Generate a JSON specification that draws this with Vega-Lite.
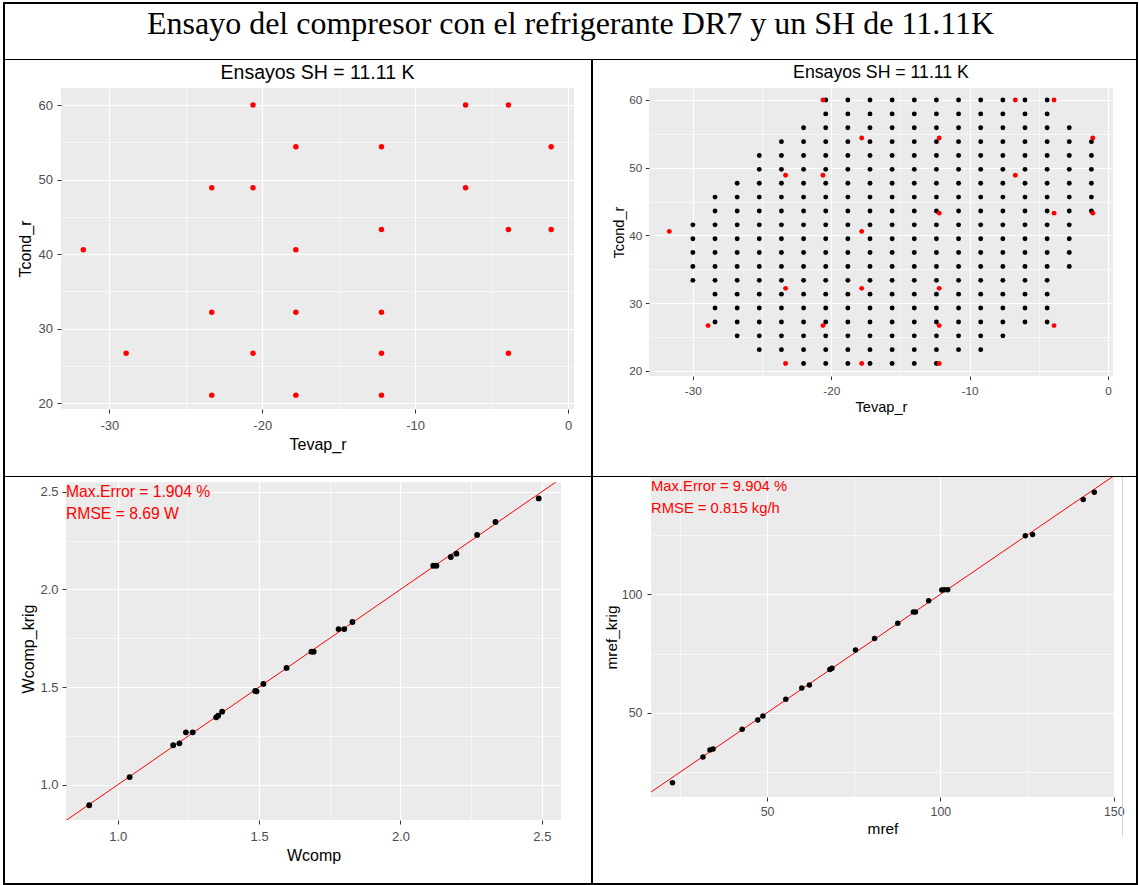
{
"$schema": "https://vega.github.io/schema/vega-lite/v6.json",
"background": "white",
"padding": {"left": 3, "top": 2, "right": 0, "bottom": 0},
"spacing": 0,
"config": {
 "view": {"stroke": null},
 "font": "Liberation Sans",
 "axis": {"domain": false, "grid": true, "gridColor": "#FFFFFF", "tickColor": "#333333", "tickWidth": 1, "tickSize": 4, "labelColor": "#4D4D4D", "labelFont": "Liberation Sans", "titleFont": "Liberation Sans", "titleFontWeight": "normal", "titleColor": "#000000", "labelOverlap": false, "labelFlush": false, "labelBound": false},
 "text": {"font": "Liberation Sans"}
},
"datasets": {
 "tests": [
  {"Tevap_r":-20.6,"Tcond_r":60},{"Tevap_r":-6.7,"Tcond_r":60},{"Tevap_r":-3.9,"Tcond_r":60},
  {"Tevap_r":-17.8,"Tcond_r":54.4},{"Tevap_r":-12.2,"Tcond_r":54.4},{"Tevap_r":-1.1,"Tcond_r":54.4},
  {"Tevap_r":-23.3,"Tcond_r":48.9},{"Tevap_r":-20.6,"Tcond_r":48.9},{"Tevap_r":-6.7,"Tcond_r":48.9},
  {"Tevap_r":-12.2,"Tcond_r":43.3},{"Tevap_r":-3.9,"Tcond_r":43.3},{"Tevap_r":-1.1,"Tcond_r":43.3},
  {"Tevap_r":-31.7,"Tcond_r":40.6},{"Tevap_r":-17.8,"Tcond_r":40.6},
  {"Tevap_r":-23.3,"Tcond_r":32.2},{"Tevap_r":-17.8,"Tcond_r":32.2},{"Tevap_r":-12.2,"Tcond_r":32.2},
  {"Tevap_r":-28.9,"Tcond_r":26.7},{"Tevap_r":-20.6,"Tcond_r":26.7},{"Tevap_r":-12.2,"Tcond_r":26.7},{"Tevap_r":-3.9,"Tcond_r":26.7},
  {"Tevap_r":-23.3,"Tcond_r":21.1},{"Tevap_r":-17.8,"Tcond_r":21.1},{"Tevap_r":-12.2,"Tcond_r":21.1}
 ],
 "grid": [
  {"Tevap_r":-20.4,"Tcond_r":60},{"Tevap_r":-18.8,"Tcond_r":60},{"Tevap_r":-17.2,"Tcond_r":60},{"Tevap_r":-15.6,"Tcond_r":60},{"Tevap_r":-14,"Tcond_r":60},{"Tevap_r":-12.4,"Tcond_r":60},{"Tevap_r":-10.8,"Tcond_r":60},{"Tevap_r":-9.2,"Tcond_r":60},{"Tevap_r":-7.6,"Tcond_r":60},{"Tevap_r":-6,"Tcond_r":60},{"Tevap_r":-4.4,"Tcond_r":60},
  {"Tevap_r":-20.4,"Tcond_r":57.95},{"Tevap_r":-18.8,"Tcond_r":57.95},{"Tevap_r":-17.2,"Tcond_r":57.95},{"Tevap_r":-15.6,"Tcond_r":57.95},{"Tevap_r":-14,"Tcond_r":57.95},{"Tevap_r":-12.4,"Tcond_r":57.95},{"Tevap_r":-10.8,"Tcond_r":57.95},{"Tevap_r":-9.2,"Tcond_r":57.95},{"Tevap_r":-7.6,"Tcond_r":57.95},{"Tevap_r":-6,"Tcond_r":57.95},{"Tevap_r":-4.4,"Tcond_r":57.95},
  {"Tevap_r":-22,"Tcond_r":55.9},{"Tevap_r":-20.4,"Tcond_r":55.9},{"Tevap_r":-18.8,"Tcond_r":55.9},{"Tevap_r":-17.2,"Tcond_r":55.9},{"Tevap_r":-15.6,"Tcond_r":55.9},{"Tevap_r":-14,"Tcond_r":55.9},{"Tevap_r":-12.4,"Tcond_r":55.9},{"Tevap_r":-10.8,"Tcond_r":55.9},{"Tevap_r":-9.2,"Tcond_r":55.9},{"Tevap_r":-7.6,"Tcond_r":55.9},{"Tevap_r":-6,"Tcond_r":55.9},{"Tevap_r":-4.4,"Tcond_r":55.9},{"Tevap_r":-2.8,"Tcond_r":55.9},
  {"Tevap_r":-23.6,"Tcond_r":53.85},{"Tevap_r":-22,"Tcond_r":53.85},{"Tevap_r":-20.4,"Tcond_r":53.85},{"Tevap_r":-18.8,"Tcond_r":53.85},{"Tevap_r":-17.2,"Tcond_r":53.85},{"Tevap_r":-15.6,"Tcond_r":53.85},{"Tevap_r":-14,"Tcond_r":53.85},{"Tevap_r":-12.4,"Tcond_r":53.85},{"Tevap_r":-10.8,"Tcond_r":53.85},{"Tevap_r":-9.2,"Tcond_r":53.85},{"Tevap_r":-7.6,"Tcond_r":53.85},{"Tevap_r":-6,"Tcond_r":53.85},{"Tevap_r":-4.4,"Tcond_r":53.85},{"Tevap_r":-2.8,"Tcond_r":53.85},{"Tevap_r":-1.2,"Tcond_r":53.85},
  {"Tevap_r":-25.2,"Tcond_r":51.81},{"Tevap_r":-23.6,"Tcond_r":51.81},{"Tevap_r":-22,"Tcond_r":51.81},{"Tevap_r":-20.4,"Tcond_r":51.81},{"Tevap_r":-18.8,"Tcond_r":51.81},{"Tevap_r":-17.2,"Tcond_r":51.81},{"Tevap_r":-15.6,"Tcond_r":51.81},{"Tevap_r":-14,"Tcond_r":51.81},{"Tevap_r":-12.4,"Tcond_r":51.81},{"Tevap_r":-10.8,"Tcond_r":51.81},{"Tevap_r":-9.2,"Tcond_r":51.81},{"Tevap_r":-7.6,"Tcond_r":51.81},{"Tevap_r":-6,"Tcond_r":51.81},{"Tevap_r":-4.4,"Tcond_r":51.81},{"Tevap_r":-2.8,"Tcond_r":51.81},{"Tevap_r":-1.2,"Tcond_r":51.81},
  {"Tevap_r":-25.2,"Tcond_r":49.76},{"Tevap_r":-23.6,"Tcond_r":49.76},{"Tevap_r":-22,"Tcond_r":49.76},{"Tevap_r":-20.4,"Tcond_r":49.76},{"Tevap_r":-18.8,"Tcond_r":49.76},{"Tevap_r":-17.2,"Tcond_r":49.76},{"Tevap_r":-15.6,"Tcond_r":49.76},{"Tevap_r":-14,"Tcond_r":49.76},{"Tevap_r":-12.4,"Tcond_r":49.76},{"Tevap_r":-10.8,"Tcond_r":49.76},{"Tevap_r":-9.2,"Tcond_r":49.76},{"Tevap_r":-7.6,"Tcond_r":49.76},{"Tevap_r":-6,"Tcond_r":49.76},{"Tevap_r":-4.4,"Tcond_r":49.76},{"Tevap_r":-2.8,"Tcond_r":49.76},{"Tevap_r":-1.2,"Tcond_r":49.76},
  {"Tevap_r":-26.8,"Tcond_r":47.71},{"Tevap_r":-25.2,"Tcond_r":47.71},{"Tevap_r":-23.6,"Tcond_r":47.71},{"Tevap_r":-22,"Tcond_r":47.71},{"Tevap_r":-20.4,"Tcond_r":47.71},{"Tevap_r":-18.8,"Tcond_r":47.71},{"Tevap_r":-17.2,"Tcond_r":47.71},{"Tevap_r":-15.6,"Tcond_r":47.71},{"Tevap_r":-14,"Tcond_r":47.71},{"Tevap_r":-12.4,"Tcond_r":47.71},{"Tevap_r":-10.8,"Tcond_r":47.71},{"Tevap_r":-9.2,"Tcond_r":47.71},{"Tevap_r":-7.6,"Tcond_r":47.71},{"Tevap_r":-6,"Tcond_r":47.71},{"Tevap_r":-4.4,"Tcond_r":47.71},{"Tevap_r":-2.8,"Tcond_r":47.71},{"Tevap_r":-1.2,"Tcond_r":47.71},
  {"Tevap_r":-28.4,"Tcond_r":45.67},{"Tevap_r":-26.8,"Tcond_r":45.67},{"Tevap_r":-25.2,"Tcond_r":45.67},{"Tevap_r":-23.6,"Tcond_r":45.67},{"Tevap_r":-22,"Tcond_r":45.67},{"Tevap_r":-20.4,"Tcond_r":45.67},{"Tevap_r":-18.8,"Tcond_r":45.67},{"Tevap_r":-17.2,"Tcond_r":45.67},{"Tevap_r":-15.6,"Tcond_r":45.67},{"Tevap_r":-14,"Tcond_r":45.67},{"Tevap_r":-12.4,"Tcond_r":45.67},{"Tevap_r":-10.8,"Tcond_r":45.67},{"Tevap_r":-9.2,"Tcond_r":45.67},{"Tevap_r":-7.6,"Tcond_r":45.67},{"Tevap_r":-6,"Tcond_r":45.67},{"Tevap_r":-4.4,"Tcond_r":45.67},{"Tevap_r":-2.8,"Tcond_r":45.67},{"Tevap_r":-1.2,"Tcond_r":45.67},
  {"Tevap_r":-28.4,"Tcond_r":43.62},{"Tevap_r":-26.8,"Tcond_r":43.62},{"Tevap_r":-25.2,"Tcond_r":43.62},{"Tevap_r":-23.6,"Tcond_r":43.62},{"Tevap_r":-22,"Tcond_r":43.62},{"Tevap_r":-20.4,"Tcond_r":43.62},{"Tevap_r":-18.8,"Tcond_r":43.62},{"Tevap_r":-17.2,"Tcond_r":43.62},{"Tevap_r":-15.6,"Tcond_r":43.62},{"Tevap_r":-14,"Tcond_r":43.62},{"Tevap_r":-12.4,"Tcond_r":43.62},{"Tevap_r":-10.8,"Tcond_r":43.62},{"Tevap_r":-9.2,"Tcond_r":43.62},{"Tevap_r":-7.6,"Tcond_r":43.62},{"Tevap_r":-6,"Tcond_r":43.62},{"Tevap_r":-4.4,"Tcond_r":43.62},{"Tevap_r":-2.8,"Tcond_r":43.62},{"Tevap_r":-1.2,"Tcond_r":43.62},
  {"Tevap_r":-30,"Tcond_r":41.57},{"Tevap_r":-28.4,"Tcond_r":41.57},{"Tevap_r":-26.8,"Tcond_r":41.57},{"Tevap_r":-25.2,"Tcond_r":41.57},{"Tevap_r":-23.6,"Tcond_r":41.57},{"Tevap_r":-22,"Tcond_r":41.57},{"Tevap_r":-20.4,"Tcond_r":41.57},{"Tevap_r":-18.8,"Tcond_r":41.57},{"Tevap_r":-17.2,"Tcond_r":41.57},{"Tevap_r":-15.6,"Tcond_r":41.57},{"Tevap_r":-14,"Tcond_r":41.57},{"Tevap_r":-12.4,"Tcond_r":41.57},{"Tevap_r":-10.8,"Tcond_r":41.57},{"Tevap_r":-9.2,"Tcond_r":41.57},{"Tevap_r":-7.6,"Tcond_r":41.57},{"Tevap_r":-6,"Tcond_r":41.57},{"Tevap_r":-4.4,"Tcond_r":41.57},{"Tevap_r":-2.8,"Tcond_r":41.57},
  {"Tevap_r":-30,"Tcond_r":39.52},{"Tevap_r":-28.4,"Tcond_r":39.52},{"Tevap_r":-26.8,"Tcond_r":39.52},{"Tevap_r":-25.2,"Tcond_r":39.52},{"Tevap_r":-23.6,"Tcond_r":39.52},{"Tevap_r":-22,"Tcond_r":39.52},{"Tevap_r":-20.4,"Tcond_r":39.52},{"Tevap_r":-18.8,"Tcond_r":39.52},{"Tevap_r":-17.2,"Tcond_r":39.52},{"Tevap_r":-15.6,"Tcond_r":39.52},{"Tevap_r":-14,"Tcond_r":39.52},{"Tevap_r":-12.4,"Tcond_r":39.52},{"Tevap_r":-10.8,"Tcond_r":39.52},{"Tevap_r":-9.2,"Tcond_r":39.52},{"Tevap_r":-7.6,"Tcond_r":39.52},{"Tevap_r":-6,"Tcond_r":39.52},{"Tevap_r":-4.4,"Tcond_r":39.52},{"Tevap_r":-2.8,"Tcond_r":39.52},
  {"Tevap_r":-30,"Tcond_r":37.48},{"Tevap_r":-28.4,"Tcond_r":37.48},{"Tevap_r":-26.8,"Tcond_r":37.48},{"Tevap_r":-25.2,"Tcond_r":37.48},{"Tevap_r":-23.6,"Tcond_r":37.48},{"Tevap_r":-22,"Tcond_r":37.48},{"Tevap_r":-20.4,"Tcond_r":37.48},{"Tevap_r":-18.8,"Tcond_r":37.48},{"Tevap_r":-17.2,"Tcond_r":37.48},{"Tevap_r":-15.6,"Tcond_r":37.48},{"Tevap_r":-14,"Tcond_r":37.48},{"Tevap_r":-12.4,"Tcond_r":37.48},{"Tevap_r":-10.8,"Tcond_r":37.48},{"Tevap_r":-9.2,"Tcond_r":37.48},{"Tevap_r":-7.6,"Tcond_r":37.48},{"Tevap_r":-6,"Tcond_r":37.48},{"Tevap_r":-4.4,"Tcond_r":37.48},{"Tevap_r":-2.8,"Tcond_r":37.48},
  {"Tevap_r":-30,"Tcond_r":35.43},{"Tevap_r":-28.4,"Tcond_r":35.43},{"Tevap_r":-26.8,"Tcond_r":35.43},{"Tevap_r":-25.2,"Tcond_r":35.43},{"Tevap_r":-23.6,"Tcond_r":35.43},{"Tevap_r":-22,"Tcond_r":35.43},{"Tevap_r":-20.4,"Tcond_r":35.43},{"Tevap_r":-18.8,"Tcond_r":35.43},{"Tevap_r":-17.2,"Tcond_r":35.43},{"Tevap_r":-15.6,"Tcond_r":35.43},{"Tevap_r":-14,"Tcond_r":35.43},{"Tevap_r":-12.4,"Tcond_r":35.43},{"Tevap_r":-10.8,"Tcond_r":35.43},{"Tevap_r":-9.2,"Tcond_r":35.43},{"Tevap_r":-7.6,"Tcond_r":35.43},{"Tevap_r":-6,"Tcond_r":35.43},{"Tevap_r":-4.4,"Tcond_r":35.43},{"Tevap_r":-2.8,"Tcond_r":35.43},
  {"Tevap_r":-30,"Tcond_r":33.38},{"Tevap_r":-28.4,"Tcond_r":33.38},{"Tevap_r":-26.8,"Tcond_r":33.38},{"Tevap_r":-25.2,"Tcond_r":33.38},{"Tevap_r":-23.6,"Tcond_r":33.38},{"Tevap_r":-22,"Tcond_r":33.38},{"Tevap_r":-20.4,"Tcond_r":33.38},{"Tevap_r":-18.8,"Tcond_r":33.38},{"Tevap_r":-17.2,"Tcond_r":33.38},{"Tevap_r":-15.6,"Tcond_r":33.38},{"Tevap_r":-14,"Tcond_r":33.38},{"Tevap_r":-12.4,"Tcond_r":33.38},{"Tevap_r":-10.8,"Tcond_r":33.38},{"Tevap_r":-9.2,"Tcond_r":33.38},{"Tevap_r":-7.6,"Tcond_r":33.38},{"Tevap_r":-6,"Tcond_r":33.38},{"Tevap_r":-4.4,"Tcond_r":33.38},
  {"Tevap_r":-28.4,"Tcond_r":31.34},{"Tevap_r":-26.8,"Tcond_r":31.34},{"Tevap_r":-25.2,"Tcond_r":31.34},{"Tevap_r":-23.6,"Tcond_r":31.34},{"Tevap_r":-22,"Tcond_r":31.34},{"Tevap_r":-20.4,"Tcond_r":31.34},{"Tevap_r":-18.8,"Tcond_r":31.34},{"Tevap_r":-17.2,"Tcond_r":31.34},{"Tevap_r":-15.6,"Tcond_r":31.34},{"Tevap_r":-14,"Tcond_r":31.34},{"Tevap_r":-12.4,"Tcond_r":31.34},{"Tevap_r":-10.8,"Tcond_r":31.34},{"Tevap_r":-9.2,"Tcond_r":31.34},{"Tevap_r":-7.6,"Tcond_r":31.34},{"Tevap_r":-6,"Tcond_r":31.34},{"Tevap_r":-4.4,"Tcond_r":31.34},
  {"Tevap_r":-28.4,"Tcond_r":29.29},{"Tevap_r":-26.8,"Tcond_r":29.29},{"Tevap_r":-25.2,"Tcond_r":29.29},{"Tevap_r":-23.6,"Tcond_r":29.29},{"Tevap_r":-22,"Tcond_r":29.29},{"Tevap_r":-20.4,"Tcond_r":29.29},{"Tevap_r":-18.8,"Tcond_r":29.29},{"Tevap_r":-17.2,"Tcond_r":29.29},{"Tevap_r":-15.6,"Tcond_r":29.29},{"Tevap_r":-14,"Tcond_r":29.29},{"Tevap_r":-12.4,"Tcond_r":29.29},{"Tevap_r":-10.8,"Tcond_r":29.29},{"Tevap_r":-9.2,"Tcond_r":29.29},{"Tevap_r":-7.6,"Tcond_r":29.29},{"Tevap_r":-6,"Tcond_r":29.29},{"Tevap_r":-4.4,"Tcond_r":29.29},
  {"Tevap_r":-28.4,"Tcond_r":27.24},{"Tevap_r":-26.8,"Tcond_r":27.24},{"Tevap_r":-25.2,"Tcond_r":27.24},{"Tevap_r":-23.6,"Tcond_r":27.24},{"Tevap_r":-22,"Tcond_r":27.24},{"Tevap_r":-20.4,"Tcond_r":27.24},{"Tevap_r":-18.8,"Tcond_r":27.24},{"Tevap_r":-17.2,"Tcond_r":27.24},{"Tevap_r":-15.6,"Tcond_r":27.24},{"Tevap_r":-14,"Tcond_r":27.24},{"Tevap_r":-12.4,"Tcond_r":27.24},{"Tevap_r":-10.8,"Tcond_r":27.24},{"Tevap_r":-9.2,"Tcond_r":27.24},{"Tevap_r":-7.6,"Tcond_r":27.24},{"Tevap_r":-6,"Tcond_r":27.24},{"Tevap_r":-4.4,"Tcond_r":27.24},
  {"Tevap_r":-26.8,"Tcond_r":25.19},{"Tevap_r":-25.2,"Tcond_r":25.19},{"Tevap_r":-23.6,"Tcond_r":25.19},{"Tevap_r":-22,"Tcond_r":25.19},{"Tevap_r":-20.4,"Tcond_r":25.19},{"Tevap_r":-18.8,"Tcond_r":25.19},{"Tevap_r":-17.2,"Tcond_r":25.19},{"Tevap_r":-15.6,"Tcond_r":25.19},{"Tevap_r":-14,"Tcond_r":25.19},{"Tevap_r":-12.4,"Tcond_r":25.19},{"Tevap_r":-10.8,"Tcond_r":25.19},{"Tevap_r":-9.2,"Tcond_r":25.19},{"Tevap_r":-7.6,"Tcond_r":25.19},
  {"Tevap_r":-25.2,"Tcond_r":23.15},{"Tevap_r":-23.6,"Tcond_r":23.15},{"Tevap_r":-22,"Tcond_r":23.15},{"Tevap_r":-20.4,"Tcond_r":23.15},{"Tevap_r":-18.8,"Tcond_r":23.15},{"Tevap_r":-17.2,"Tcond_r":23.15},{"Tevap_r":-15.6,"Tcond_r":23.15},{"Tevap_r":-14,"Tcond_r":23.15},{"Tevap_r":-12.4,"Tcond_r":23.15},{"Tevap_r":-10.8,"Tcond_r":23.15},{"Tevap_r":-9.2,"Tcond_r":23.15},
  {"Tevap_r":-22,"Tcond_r":21.1},{"Tevap_r":-20.4,"Tcond_r":21.1},{"Tevap_r":-18.8,"Tcond_r":21.1},{"Tevap_r":-17.2,"Tcond_r":21.1},{"Tevap_r":-15.6,"Tcond_r":21.1},{"Tevap_r":-14,"Tcond_r":21.1},{"Tevap_r":-12.4,"Tcond_r":21.1}
 ],
 "wcomp": [
  {"Wcomp":0.899,"Wcomp_krig":0.895},{"Wcomp":1.042,"Wcomp_krig":1.039},{"Wcomp":1.196,"Wcomp_krig":1.202},{"Wcomp":1.218,"Wcomp_krig":1.212},{"Wcomp":1.241,"Wcomp_krig":1.268},{"Wcomp":1.265,"Wcomp_krig":1.268},{"Wcomp":1.348,"Wcomp_krig":1.345},{"Wcomp":1.355,"Wcomp_krig":1.353},{"Wcomp":1.369,"Wcomp_krig":1.374},{"Wcomp":1.486,"Wcomp_krig":1.48},{"Wcomp":1.491,"Wcomp_krig":1.478},{"Wcomp":1.515,"Wcomp_krig":1.516},{"Wcomp":1.597,"Wcomp_krig":1.598},{"Wcomp":1.685,"Wcomp_krig":1.681},{"Wcomp":1.693,"Wcomp_krig":1.681},{"Wcomp":1.781,"Wcomp_krig":1.797},{"Wcomp":1.801,"Wcomp_krig":1.797},{"Wcomp":1.83,"Wcomp_krig":1.833},{"Wcomp":2.116,"Wcomp_krig":2.121},{"Wcomp":2.127,"Wcomp_krig":2.121},{"Wcomp":2.178,"Wcomp_krig":2.166},{"Wcomp":2.198,"Wcomp_krig":2.183},{"Wcomp":2.271,"Wcomp_krig":2.279},{"Wcomp":2.336,"Wcomp_krig":2.345},{"Wcomp":2.489,"Wcomp_krig":2.466}
 ],
 "mref": [
  {"mref":22.7,"mref_krig":20.4},{"mref":31.5,"mref_krig":31.3},{"mref":33.5,"mref_krig":34.3},{"mref":34.4,"mref_krig":34.7},{"mref":42.8,"mref_krig":43},{"mref":47.3,"mref_krig":46.9},{"mref":48.8,"mref_krig":48.6},{"mref":55.4,"mref_krig":55.7},{"mref":60,"mref_krig":60.4},{"mref":62.2,"mref_krig":61.7},{"mref":68.1,"mref_krig":68.2},{"mref":68.7,"mref_krig":68.8},{"mref":75.5,"mref_krig":76.5},{"mref":81,"mref_krig":81.3},{"mref":87.7,"mref_krig":87.8},{"mref":92.2,"mref_krig":92.5},{"mref":92.8,"mref_krig":92.5},{"mref":96.6,"mref_krig":97.3},{"mref":100.4,"mref_krig":101.8},{"mref":101.1,"mref_krig":101.9},{"mref":102.1,"mref_krig":101.9},{"mref":124.5,"mref_krig":124.7},{"mref":126.6,"mref_krig":125.3},{"mref":141.2,"mref_krig":140},{"mref":144.4,"mref_krig":143.1}
 ]
},
"vconcat": [
 {"width": 1135, "height": 2, "data": {"values": []}, "mark": "point", "view": {"fill": "#000000"}},
 {"hconcat": [
   {"width": 2, "height": 55, "data": {"values": []}, "mark": "point", "view": {"fill": "#000000"}},
   {"width": 1131, "height": 55, "data": {"values": [{"t": "Ensayo del compresor con el refrigerante DR7 y un SH de 11.11K"}]}, "mark": {"type": "text", "font": "Liberation Serif", "fontSize": 32, "color": "#000000", "baseline": "alphabetic", "align": "center", "dy": 2}, "encoding": {"text": {"field": "t"}}},
   {"width": 2, "height": 55, "data": {"values": []}, "mark": "point", "view": {"fill": "#000000"}}
  ], "spacing": 0, "bounds": "flush"},
 {"width": 1135, "height": 1, "data": {"values": []}, "mark": "point", "view": {"fill": "#000000"}},
 {"hconcat": [
   {"width": 2, "height": 28, "data": {"values": []}, "mark": "point", "view": {"fill": "#000000"}},
   {"width": 56, "height": 28, "data": {"values": []}, "mark": "point"},
   {"width": 513, "height": 28, "data": {"values": [{"t": "Ensayos SH = 11.11 K"}]}, "mark": {"type": "text", "fontSize": 19.5, "color": "#000000", "baseline": "alphabetic", "align": "center", "dy": 5}, "encoding": {"text": {"field": "t"}}},
   {"width": 17, "height": 28, "data": {"values": []}, "mark": "point"},
   {"width": 2, "height": 28, "data": {"values": []}, "mark": "point", "view": {"fill": "#000000"}},
   {"width": 56, "height": 28, "data": {"values": []}, "mark": "point"},
   {"width": 464, "height": 28, "data": {"values": [{"t": "Ensayos SH = 11.11 K"}]}, "mark": {"type": "text", "fontSize": 17.7, "color": "#000000", "baseline": "alphabetic", "align": "center", "dy": 4}, "encoding": {"text": {"field": "t"}}},
   {"width": 23, "height": 28, "data": {"values": []}, "mark": "point"},
   {"width": 2, "height": 28, "data": {"values": []}, "mark": "point", "view": {"fill": "#000000"}}
  ], "spacing": 0, "bounds": "flush"},
 {"hconcat": [
   {"width": 2, "height": 388, "data": {"values": []}, "mark": "point", "view": {"fill": "#000000"}},
   {"width": 56, "height": 388, "data": {"values": []}, "mark": "point"},
   {"width": 513, "height": 321, "view": {"fill": "#EBEBEB"},
    "data": {"name": "tests"},
    "mark": {"type": "point", "filled": true, "color": "#FF0000", "size": 30, "opacity": 1},
    "encoding": {
     "x": {"field": "Tevap_r", "type": "quantitative", "scale": {"domain": [-33.16, 0.39], "nice": false, "zero": false},
      "axis": {"title": "Tevap_r", "titleFontSize": 16, "labelFontSize": 13, "labelPadding": 6, "titlePadding": 4,
       "values": [-30, -25, -20, -15, -10, -5, 0],
       "labelExpr": "datum.value % 10 === 0 ? '' + datum.value : ''",
       "tickOpacity": {"condition": {"test": "datum.value % 10 !== 0", "value": 0}, "value": 1},
       "gridWidth": {"condition": {"test": "datum.value % 10 !== 0", "value": 0.6}, "value": 1.2}}},
     "y": {"field": "Tcond_r", "type": "quantitative", "scale": {"domain": [19.24, 62.28], "nice": false, "zero": false},
      "axis": {"title": "Tcond_r", "titleFontSize": 16, "labelFontSize": 13, "labelPadding": 4.5, "titlePadding": 5,
       "values": [20, 25, 30, 35, 40, 45, 50, 55, 60],
       "labelExpr": "datum.value % 10 === 0 ? '' + datum.value : ''",
       "tickOpacity": {"condition": {"test": "datum.value % 10 !== 0", "value": 0}, "value": 1},
       "gridWidth": {"condition": {"test": "datum.value % 10 !== 0", "value": 0.6}, "value": 1.2}}}
    }},
   {"width": 17, "height": 388, "data": {"values": []}, "mark": "point"},
   {"width": 2, "height": 388, "data": {"values": []}, "mark": "point", "view": {"fill": "#000000"}},
   {"width": 56, "height": 388, "data": {"values": []}, "mark": "point"},
   {"width": 464, "height": 288, "view": {"fill": "#EBEBEB"},
    "encoding": {
     "x": {"field": "Tevap_r", "type": "quantitative", "scale": {"domain": [-33.17, 0.36], "nice": false, "zero": false},
      "axis": {"title": "Tevap_r", "titleFontSize": 14.6, "labelFontSize": 11.8, "tickSize": 3.6, "labelPadding": 5.5, "titlePadding": 3,
       "values": [-30, -25, -20, -15, -10, -5, 0],
       "labelExpr": "datum.value % 10 === 0 ? '' + datum.value : ''",
       "tickOpacity": {"condition": {"test": "datum.value % 10 !== 0", "value": 0}, "value": 1},
       "gridWidth": {"condition": {"test": "datum.value % 10 !== 0", "value": 0.6}, "value": 1.2}}},
     "y": {"field": "Tcond_r", "type": "quantitative", "scale": {"domain": [19.26, 61.77], "nice": false, "zero": false},
      "axis": {"title": "Tcond_r", "titleFontSize": 14.6, "labelFontSize": 11.8, "tickSize": 3.6, "labelPadding": 3.5, "titlePadding": 2,
       "values": [20, 25, 30, 35, 40, 45, 50, 55, 60],
       "labelExpr": "datum.value % 10 === 0 ? '' + datum.value : ''",
       "tickOpacity": {"condition": {"test": "datum.value % 10 !== 0", "value": 0}, "value": 1},
       "gridWidth": {"condition": {"test": "datum.value % 10 !== 0", "value": 0.6}, "value": 1.2}}}
    },
    "layer": [
     {"data": {"name": "grid"}, "mark": {"type": "point", "filled": true, "color": "#000000", "size": 24, "opacity": 1}},
     {"data": {"name": "tests"}, "mark": {"type": "point", "filled": true, "color": "#FF0000", "size": 24, "opacity": 1}}
    ]},
   {"width": 23, "height": 388, "data": {"values": []}, "mark": "point"},
   {"width": 2, "height": 388, "data": {"values": []}, "mark": "point", "view": {"fill": "#000000"}}
  ], "spacing": 0, "bounds": "flush"},
 {"width": 1135, "height": 1, "data": {"values": []}, "mark": "point", "view": {"fill": "#000000"}},
 {"hconcat": [
   {"width": 2, "height": 406, "data": {"values": []}, "mark": "point", "view": {"fill": "#000000"}},
   {"width": 61, "height": 406, "data": {"values": []}, "mark": "point"},
   {"width": 495, "height": 343, "view": {"fill": "#EBEBEB"},
    "layer": [
     {"data": {"values": [{"Wcomp": 0.8, "Wcomp_krig": 0.8}, {"Wcomp": 2.6, "Wcomp_krig": 2.6}]}, "mark": {"type": "line", "color": "#FF0000", "strokeWidth": 1, "clip": true},
      "encoding": {"x": {"field": "Wcomp", "type": "quantitative"}, "y": {"field": "Wcomp_krig", "type": "quantitative"}}},
     {"data": {"name": "wcomp"}, "mark": {"type": "point", "filled": true, "color": "#000000", "size": 34, "opacity": 1},
      "encoding": {
       "x": {"field": "Wcomp", "type": "quantitative", "scale": {"domain": [0.8168, 2.5678], "nice": false, "zero": false},
        "axis": {"title": "Wcomp", "titleFontSize": 16, "labelFontSize": 13, "labelPadding": 6, "titlePadding": 4,
         "values": [1, 1.25, 1.5, 1.75, 2, 2.25, 2.5],
         "labelExpr": "datum.value % 0.5 === 0 ? format(datum.value, '.1f') : ''",
         "tickOpacity": {"condition": {"test": "datum.value % 0.5 !== 0", "value": 0}, "value": 1},
         "gridWidth": {"condition": {"test": "datum.value % 0.5 !== 0", "value": 0.6}, "value": 1.2}}},
       "y": {"field": "Wcomp_krig", "type": "quantitative", "scale": {"domain": [0.8193, 2.5755], "nice": false, "zero": false},
        "axis": {"title": "Wcomp_krig", "titleFontSize": 16, "labelFontSize": 13, "labelPadding": 4, "titlePadding": 3,
         "values": [1, 1.25, 1.5, 1.75, 2, 2.25, 2.5],
         "labelExpr": "datum.value % 0.5 === 0 ? format(datum.value, '.1f') : ''",
         "tickOpacity": {"condition": {"test": "datum.value % 0.5 !== 0", "value": 0}, "value": 1},
         "gridWidth": {"condition": {"test": "datum.value % 0.5 !== 0", "value": 0.6}, "value": 1.2}}}
      }},
     {"data": {"values": [{}]}, "mark": {"type": "rect", "color": "#FFFFFF", "opacity": 1},
      "encoding": {"x": {"datum": 0.8168, "type": "quantitative"}, "x2": {"datum": 2.5678}, "y": {"datum": 2.548, "type": "quantitative"}, "y2": {"datum": 2.5755}}},
     {"data": {"values": [{"t": "Max.Error = 1.904 %"}]}, "mark": {"type": "text", "align": "left", "baseline": "alphabetic", "fontSize": 15.7, "color": "#FF0000"},
      "encoding": {"x": {"datum": 0.8168, "type": "quantitative"}, "y": {"datum": 2.475, "type": "quantitative"}, "text": {"field": "t"}}},
     {"data": {"values": [{"t": "RMSE = 8.69 W"}]}, "mark": {"type": "text", "align": "left", "baseline": "alphabetic", "fontSize": 15.7, "color": "#FF0000"},
      "encoding": {"x": {"datum": 0.8168, "type": "quantitative"}, "y": {"datum": 2.359, "type": "quantitative"}, "text": {"field": "t"}}}
    ]},
   {"width": 30, "height": 406, "data": {"values": []}, "mark": "point"},
   {"width": 2, "height": 406, "data": {"values": []}, "mark": "point", "view": {"fill": "#000000"}},
   {"width": 58, "height": 406, "data": {"values": []}, "mark": "point"},
   {"width": 463, "height": 320, "view": {"fill": "#EBEBEB"},
    "layer": [
     {"data": {"values": [{"mref": 10, "mref_krig": 10}, {"mref": 150, "mref_krig": 150}]}, "mark": {"type": "line", "color": "#FF0000", "strokeWidth": 1, "clip": true},
      "encoding": {"x": {"field": "mref", "type": "quantitative"}, "y": {"field": "mref_krig", "type": "quantitative"}}},
     {"data": {"name": "mref"}, "mark": {"type": "point", "filled": true, "color": "#000000", "size": 30, "opacity": 1},
      "encoding": {
       "x": {"field": "mref", "type": "quantitative", "scale": {"domain": [16.5, 150.08], "nice": false, "zero": false},
        "axis": {"title": "mref", "titleFontSize": 15.4, "labelFontSize": 12.4, "labelPadding": 4, "titlePadding": 4,
         "values": [25, 50, 75, 100, 125, 150],
         "labelExpr": "datum.value % 50 === 0 ? '' + datum.value : ''",
         "tickOpacity": {"condition": {"test": "datum.value % 50 !== 0", "value": 0}, "value": 1},
         "gridWidth": {"condition": {"test": "datum.value % 50 !== 0", "value": 0.6}, "value": 1.2}}},
       "y": {"field": "mref_krig", "type": "quantitative", "scale": {"domain": [14.4, 149.54], "nice": false, "zero": false},
        "axis": {"title": "mref_krig", "titleFontSize": 15.4, "labelFontSize": 12.4, "labelPadding": 5, "titlePadding": 1.5,
         "values": [25, 50, 75, 100, 125],
         "labelExpr": "datum.value % 50 === 0 ? '' + datum.value : ''",
         "tickOpacity": {"condition": {"test": "datum.value % 50 !== 0", "value": 0}, "value": 1},
         "gridWidth": {"condition": {"test": "datum.value % 50 !== 0", "value": 0.6}, "value": 1.2}}}
      }},
     {"data": {"values": [{"t": "Max.Error = 9.904 %"}]}, "mark": {"type": "text", "align": "left", "baseline": "alphabetic", "fontSize": 14.8, "color": "#FF0000"},
      "encoding": {"x": {"datum": 16.5, "type": "quantitative"}, "y": {"datum": 143.75, "type": "quantitative"}, "text": {"field": "t"}}},
     {"data": {"values": [{"t": "RMSE = 0.815 kg/h"}]}, "mark": {"type": "text", "align": "left", "baseline": "alphabetic", "fontSize": 14.8, "color": "#FF0000"},
      "encoding": {"x": {"datum": 16.5, "type": "quantitative"}, "y": {"datum": 134.46, "type": "quantitative"}, "text": {"field": "t"}}}
    ]},
   {"width": 8, "height": 406, "data": {"values": []}, "mark": "point"},
   {"width": 1, "height": 360, "data": {"values": []}, "mark": "point", "view": {"fill": "#D4D4D4"}},
   {"width": 13, "height": 406, "data": {"values": []}, "mark": "point"},
   {"width": 2, "height": 406, "data": {"values": []}, "mark": "point", "view": {"fill": "#000000"}}
  ], "spacing": 0, "bounds": "flush"},
 {"width": 1135, "height": 2, "data": {"values": []}, "mark": "point", "view": {"fill": "#000000"}}
]
}
